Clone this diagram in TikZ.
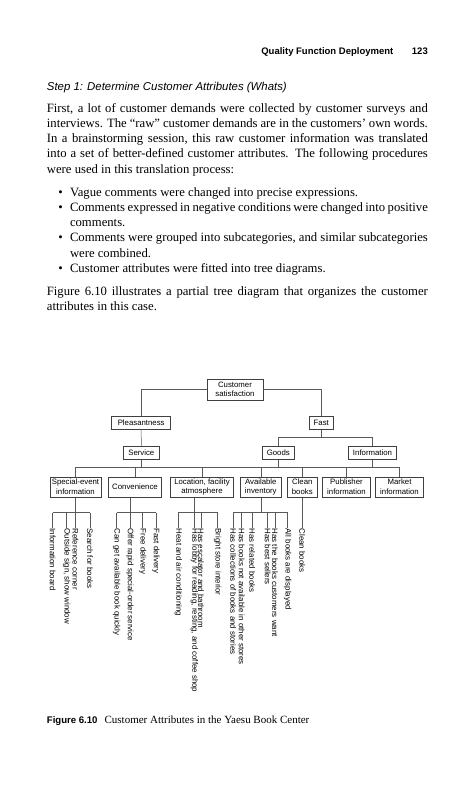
\documentclass[tikz,border=0pt]{standalone}
\usepackage{fontspec}
\setmainfont{Liberation Serif}
\setsansfont{Liberation Sans}
\usetikzlibrary{positioning}

\newcommand{\fullline}[1]{\makebox[381pt][s]{#1}}
\newcommand{\fullbullet}[1]{\makebox[358.4pt][s]{#1}}

\tikzset{
  attr/.style={draw=black!75, line width=0.5pt, font=\sffamily\fontsize{7.8}{9.6}\selectfont, inner sep=1pt, minimum height=12.6pt, align=center},
  attrtwo/.style={attr, minimum height=20.5pt},
  leaf/.style={font=\sffamily\fontsize{7.9}{9}\selectfont, rotate=-90, anchor=west, inner sep=0.5pt},
  conn/.style={draw=black!65, line width=0.5pt},
  bodyline/.style={anchor=base west, inner sep=0pt, font=\fontsize{12.7}{15.3}\selectfont},
}

\begin{document}
\begin{tikzpicture}[x=1pt,y=-1pt]
\path[fill=white,use as bounding box] (0,0) rectangle (472,800);

% running head and text
\node[anchor=base east, inner sep=0pt, font=\sffamily\bfseries\fontsize{9.5}{11}\selectfont] (pgnum) at (428,55) {123};
\node[anchor=base east, inner sep=0pt, font=\sffamily\bfseries\fontsize{9.5}{11}\selectfont] (runhead) at (393.5,55) {Quality Function Deployment};
\node[anchor=base west, inner sep=0pt, font=\sffamily\itshape\fontsize{11.4}{13}\selectfont] (step) at (46.7,90) {Step 1: Determine Customer Attributes (Whats)};

\node[bodyline] (p1) at (46.7,112) {\fullline{First, a lot of customer demands were collected by customer surveys and}};
\node[bodyline] (p2) at (46.7,127.3) {\fullline{interviews. The “raw” customer demands are in the customers’ own words.}};
\node[bodyline] (p3) at (46.7,142.6) {\fullline{In a brainstorming session, this raw customer information was translated}};
\node[bodyline] (p4) at (46.7,157.9) {\fullline{into a set of better-defined customer attributes. The following procedures}};
\node[bodyline] (p5) at (46.7,173.2) {were used in this translation process:};

\foreach \y in {196,211.3,241.9,272.5} \node[bodyline, anchor=base] at (60.5,\y) {\textbullet};
\node[bodyline] (b1) at (69.8,196) {Vague comments were changed into precise expressions.};
\node[bodyline] (b2) at (69.8,211.3) {\makebox[357.9pt][s]{Comments expressed in negative conditions were changed into positive}};
\node[bodyline] (b2b) at (69.8,226.6) {comments.};
\node[bodyline] (b3) at (69.8,241.9) {\makebox[357.9pt][s]{Comments were grouped into subcategories, and similar subcategories}};
\node[bodyline] (b3b) at (69.8,257.2) {were combined.};
\node[bodyline] (b4) at (69.8,272.5) {Customer attributes were fitted into tree diagrams.};

\node[bodyline] (q1) at (46.7,295.6) {\fullline{Figure 6.10 illustrates a partial tree diagram that organizes the customer}};
\node[bodyline] (q2) at (46.7,310.9) {attributes in this case.};

% tree boxes
\node[attrtwo, minimum width=56pt] (custsat) at (235,389.5) {Customer\\satisfaction};
\node[attr, minimum width=59pt] (pleasant) at (141.2,423) {Pleasantness};
\node[attr, minimum width=24pt] (fast) at (321.3,423) {Fast};
\node[attr, minimum width=36pt] (service) at (141.3,453) {Service};
\node[attr, minimum width=32pt] (goods) at (278.3,453) {Goods};
\node[attr, minimum width=48.4pt] (info) at (372.5,453) {Information};

\node[attrtwo, minimum width=51pt] (specevt) at (75.5,487) {Special-event\\information};
\node[attrtwo, minimum width=53.4pt] (conven) at (135,487) {Convenience};
\node[attrtwo, minimum width=62.6pt] (location) at (202,487) {Location, facility\\atmosphere};
\node[attrtwo, minimum width=41.7pt] (avail) at (260.8,487) {Available\\inventory};
\node[attrtwo, minimum width=30pt] (clean) at (302.3,487) {Clean\\books};
\node[attrtwo, minimum width=48.4pt] (publisher) at (346.5,487) {Publisher\\information};
\node[attrtwo, minimum width=47.6pt] (market) at (399.5,487) {Market\\information};

\draw[conn] (custsat.west) -| (pleasant.north);
\draw[conn] (custsat.east) -| (fast.north);
\draw[conn] (pleasant.south) -- (service.north);
\draw[conn] (fast.south) -- ++(0,7.4) coordinate (fastbus) -| (goods.north);
\draw[conn] (fastbus) -| (info.north);

\coordinate (mainbus) at (0,467.3);
\draw[conn] (specevt.north |- mainbus) -- (market.north |- mainbus);
\foreach \n in {service,goods,info} \draw[conn] (\n.south) -- (\n.south |- mainbus);
\foreach \n in {specevt,conven,location,avail,clean,publisher,market} \draw[conn] (\n.north |- mainbus) -- (\n.north);

% leaves
\foreach \x/\n/\t in {52.7/se1/{Information board}, 66.7/se2/{Outside sign, show window}, 75.5/se3/{Reference corner}, 90/se4/{Search for books},
  116.7/cv1/{Can get available book quickly}, 130/cv2/{Offer rapid special-order service}, 142.7/cv3/{Free delivery}, 156/cv4/{Fast delivery},
  178.3/lc1/{Heat and air conditioning}, 194.3/lc2/{Has lobby for reading, resting, and coffee shop}, 201/lc3/{Has escalator and bathroom}, 217.7/lc4/{Bright store interior},
  233.3/av1/{Has collections of books and stories}, 241.7/av2/{Has books not available in other stores}, 252.3/av3/{Has related books}, 267.7/av4/{Has best sellers}, 275/av5/{Has the books customers want}, 287.7/av6/{All books are displayed},
  302.3/cb1/{Clean books}}
  \node[leaf] (\n) at (\x,528) {\t};

\coordinate (leafbus) at (0,512.7);
\foreach \g/\last in {se/4,cv/4,lc/4,av/6} {
  \draw[conn] (\g1.west |- leafbus) -- (\g\last.west |- leafbus);
  \foreach \i in {1,...,\last} \draw[conn] (\g\i.west |- leafbus) -- (\g\i.west);
}
\draw[conn] (specevt.south) -- (specevt.south |- leafbus);
\draw[conn] (conven.south -| cv2.west) -- (cv2.west |- leafbus);
\draw[conn] (location.south -| lc2.west) -- (lc2.west |- leafbus);
\draw[conn] (avail.south) -- (avail.south |- leafbus);
\draw[conn] (clean.south) -- (cb1.west);

% caption
\node[anchor=base west, inner sep=0pt] (figcap) at (46.7,723) {{\sffamily\bfseries\fontsize{9.6}{11}\selectfont Figure 6.10}\hspace{7pt}{\fontsize{11}{12}\selectfont Customer Attributes in the Yaesu Book Center}};
\end{tikzpicture}
\end{document}
